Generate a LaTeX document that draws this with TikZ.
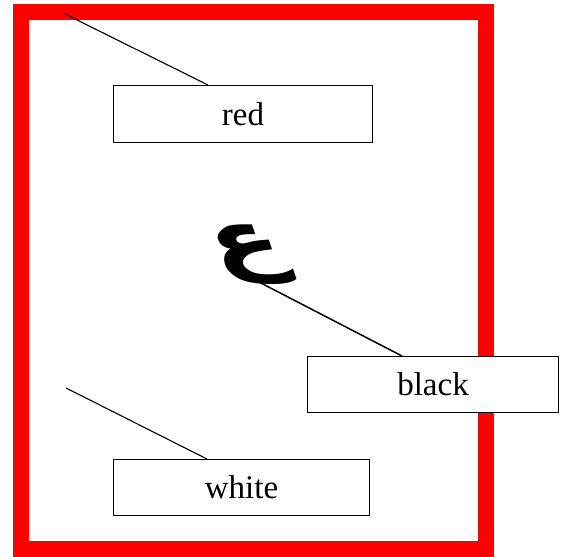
\documentclass[tikz,border=0pt]{standalone}
\usepackage{fontspec}
\setmainfont{Liberation Serif}
\newfontfamily\arabicfont[Script=Arabic]{DejaVu Sans}
\TeXXeTstate=1
\begin{document}
\begin{tikzpicture}[x=1pt,y=-1pt,
  labelbox/.style={draw=black,line width=1pt,fill=white,inner sep=0pt,anchor=north west,font=\fontsize{33}{38}\selectfont},
  leader/.style={draw=black,line width=1.1pt}]
\useasboundingbox (0,0) rectangle (561,556);
% red frame
\draw[red,line width=16pt] (21,12.5) rectangle (486,549);
% boxes
\node[labelbox,minimum width=259pt,minimum height=57pt] (redbox) at (113,85) {red};
\node[labelbox,minimum width=251pt,minimum height=56pt] (blackbox) at (307,356) {black};
\node[labelbox,minimum width=256pt,minimum height=56pt] (whitebox) at (113,459) {white};
% arabic letter
\node[inner sep=0pt,xscale=1.35,xslant=-0.25,font=\arabicfont\bfseries\fontsize{78}{90}\selectfont] (ain) at (249,254) {\beginR ع\endR};
% leader ends
\coordinate (rfree) at (65,14);
\coordinate (wfree) at (66,388);
\coordinate (ainfoot) at (257,281);
\draw[leader] (rfree) -- ([xshift=95pt]redbox.north west);
\draw[leader,line width=1.5pt] (ainfoot) -- ([xshift=95pt]blackbox.north west);
\draw[leader] (wfree) -- ([xshift=94pt]whitebox.north west);
\end{tikzpicture}
\end{document}
